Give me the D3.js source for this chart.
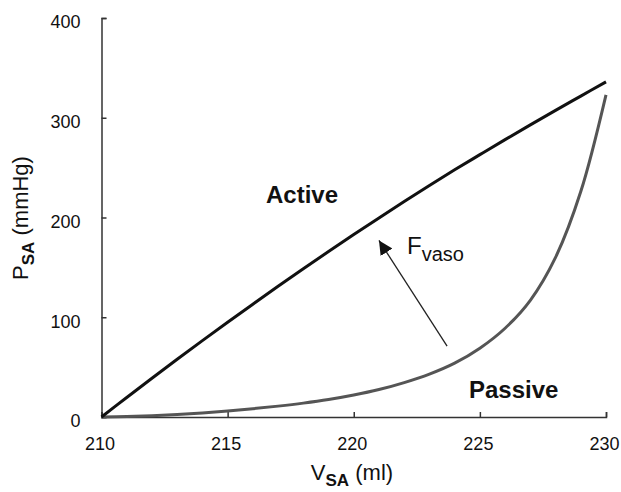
<!DOCTYPE html>
<html>
<head>
<meta charset="utf-8">
<script src="https://cdn.jsdelivr.net/npm/d3@7"></script>
<style>
  html, body { margin: 0; padding: 0; background: #fff; }
  svg { display: block; font-family: "Liberation Sans", Arial, Helvetica, sans-serif; }
</style>
</head>
<body>
<svg id="chart" width="621" height="492"></svg>
<script>
// Small-artery pressure–volume relation: passive vs. fully activated wall
const volumes = [210, 211, 212, 213, 214, 215, 216, 217, 218, 219, 220,
                 221, 222, 223, 224, 225, 226, 227, 228, 229, 230];
const activeP = [0, 19.6, 38.9, 57.9, 76.6, 95, 113.1, 131, 148.6, 165.9, 182.9,
                 199.6, 216, 232.1, 247.8, 263, 278.1, 292.9, 307.4, 321.7, 336];
const passiveP = [0, 0.4, 1.2, 2.4, 4, 6, 8.3, 10.9, 13.9, 17.5, 22,
                  27.5, 34.5, 43, 54, 69, 89, 117, 160, 226, 323];
const xTicks = [210, 215, 220, 225, 230];
const yTicks = [0, 100, 200, 300, 400];
// Vasoconstrictor force arrow: from passive toward active branch
const arrowFrom = { v: 223.7, p: 71 };
const arrowTo = { v: 221.0, p: 177 };

const svg = d3.select("#chart");
const x = d3.scaleLinear().domain([210, 230]).range([101.5, 606]);
const y = d3.scaleLinear().domain([0, 400]).range([417, 18]);

const axisColor = "#333";

// Axes with inward ticks
const gx = svg.append("g").attr("transform", `translate(0,${y(0)})`)
  .call(d3.axisBottom(x).tickValues(xTicks).tickSize(-5).tickPadding(0).tickFormat(d3.format("d")));
const gy = svg.append("g").attr("transform", `translate(${x(210)},0)`)
  .call(d3.axisLeft(y).tickValues(yTicks).tickSize(-5).tickPadding(0).tickFormat(d3.format("d")));

[gx, gy].forEach(g => {
  g.select(".domain").attr("stroke", axisColor).attr("stroke-width", 1.5);
  g.selectAll(".tick line").attr("stroke", axisColor).attr("stroke-width", 1.5);
  g.selectAll(".tick text").attr("fill", "#111").attr("font-size", 18)
    .attr("font-family", "Liberation Sans, Arial, Helvetica, sans-serif");
});
gx.selectAll(".tick text").attr("dy", null).attr("y", 33).attr("dx", -2);
gy.selectAll(".tick text").attr("x", -21).attr("dy", "0.55em");

// Curves
const line = d3.line().x((d, i) => x(volumes[i])).y(d => y(d)).curve(d3.curveCatmullRom.alpha(0.5));
svg.append("path").datum(passiveP)
  .attr("d", line).attr("fill", "none")
  .attr("stroke", "#555").attr("stroke-width", 3).attr("stroke-linejoin", "round");
svg.append("path").datum(activeP)
  .attr("d", line).attr("fill", "none")
  .attr("stroke", "#111").attr("stroke-width", 3).attr("stroke-linejoin", "round");

// Arrow
svg.append("defs").append("marker")
  .attr("id", "head").attr("viewBox", "0 0 10 10")
  .attr("refX", 10).attr("refY", 5)
  .attr("markerWidth", 14).attr("markerHeight", 14)
  .attr("markerUnits", "userSpaceOnUse").attr("orient", "auto")
  .append("path").attr("d", "M0,0 L10,5 L0,10 Z").attr("fill", "#111");
svg.append("line")
  .attr("x1", x(arrowFrom.v)).attr("y1", y(arrowFrom.p))
  .attr("x2", x(arrowTo.v)).attr("y2", y(arrowTo.p))
  .attr("stroke", "#222").attr("stroke-width", 1.3)
  .attr("marker-end", "url(#head)");

// Curve labels
svg.append("text").attr("x", 266).attr("y", 203)
  .attr("font-size", 24).attr("font-weight", "bold").attr("fill", "#111").text("Active");
svg.append("text").attr("x", 469).attr("y", 398)
  .attr("font-size", 24).attr("font-weight", "bold").attr("fill", "#111").text("Passive");

const f = svg.append("text").attr("x", 407).attr("y", 254)
  .attr("font-size", 24).attr("fill", "#111");
f.append("tspan").text("F");
f.append("tspan").attr("font-size", 20).attr("dy", 7).text("vaso");

// Axis titles
const xt = svg.append("text").attr("x", 352).attr("y", 480)
  .attr("text-anchor", "middle").attr("font-size", 22).attr("fill", "#111");
xt.append("tspan").text("V");
xt.append("tspan").attr("font-size", 17).attr("font-weight", "bold").attr("dy", 6).text("SA");
xt.append("tspan").attr("dy", -6).text(" (ml)");

const yt = svg.append("text")
  .attr("transform", `translate(28,218) rotate(-90)`)
  .attr("text-anchor", "middle").attr("font-size", 22).attr("fill", "#111");
yt.append("tspan").text("P");
yt.append("tspan").attr("font-size", 17).attr("font-weight", "bold").attr("dy", 6).text("SA");
yt.append("tspan").attr("dy", -6).text(" (mmHg)");
</script>
</body>
</html>
